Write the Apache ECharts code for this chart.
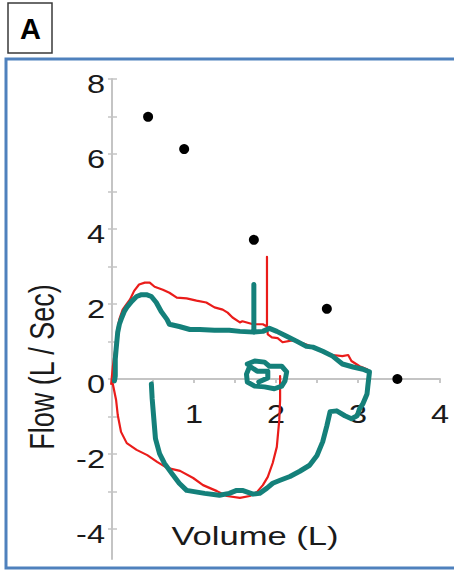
<!DOCTYPE html>
<html>
<head>
<meta charset="utf-8">
<script src="https://cdn.jsdelivr.net/npm/echarts@6/dist/echarts.min.js"></script>
<style>
html,body{margin:0;padding:0;background:#fff;}
#chart{width:454px;height:571px;}
</style>
</head>
<body>
<div id="chart"></div>
<script>
// ---- data ----
const panelLabel = 'A';
const xAxisName = 'Volume (L)';
const yAxisName = 'Flow (L / Sec)';
const xTickValues = [1, 2, 3, 4];
const xTickLabels = ['1', '2', '3', '4'];
const yTickValues = [8, 6, 4, 2, 0, -2, -4];
const yTickLabels = ['8', '6', '4', '2', '0', '-2', '-4'];
const yTickMarks = [-4, -3, -2, -1, 0, 1, 2, 3, 4, 5, 6, 7, 8];

const predictedVolume = [0.44, 0.88, 1.73, 2.62, 3.48];
const predictedFlow = [6.99, 6.13, 3.71, 1.87, 0.0];

const redExpVolume = [-0.01, 0.01, 0.04, 0.06, 0.09, 0.13, 0.18, 0.22, 0.27, 0.33, 0.40, 0.46, 0.52, 0.62, 0.70, 0.79, 0.91, 1.03, 1.15, 1.25, 1.35, 1.41, 1.47, 1.56, 1.59, 1.72, 1.84, 1.89, 1.89, 1.89, 1.90, 1.95, 2.02, 2.08, 2.20, 2.33, 2.45, 2.57, 2.69, 2.81, 2.88, 2.92, 3.02, 3.11];
const redExpFlow = [-0.13, 0.32, 0.80, 1.25, 1.60, 1.85, 2.00, 2.12, 2.35, 2.52, 2.57, 2.57, 2.46, 2.38, 2.30, 2.17, 2.15, 2.09, 2.04, 1.91, 1.85, 1.77, 1.64, 1.51, 1.54, 1.46, 1.46, 1.40, 3.26, 1.38, 1.19, 1.11, 1.09, 0.98, 1.03, 0.95, 0.85, 0.74, 0.64, 0.61, 0.64, 0.48, 0.34, 0.26];

const redInspVolume = [2.05, 2.05, 2.04, 2.01, 1.96, 1.90, 1.84, 1.77, 1.68, 1.56, 1.40, 1.28, 1.11, 0.99, 0.83, 0.67, 0.55, 0.43, 0.30, 0.18, 0.11, 0.07, 0.05, 0.02, 0.00];
const redInspFlow = [0.08, -0.56, -1.09, -1.81, -2.24, -2.61, -2.83, -3.01, -3.12, -3.17, -3.12, -2.99, -2.83, -2.64, -2.45, -2.37, -2.21, -2.03, -1.89, -1.71, -1.41, -0.96, -0.56, -0.24, -0.03];

const tealVolume = [0.03, 0.04, 0.04, 0.05, 0.07, 0.09, 0.12, 0.15, 0.18, 0.24, 0.30, 0.36, 0.42, 0.48, 0.54, 0.60, 0.67, 0.70, 0.82, 0.95, 1.07, 1.25, 1.43, 1.56, 1.73, 1.73, 1.73, 1.84, 1.92, 2.01, 2.13, 2.25, 2.37, 2.45, 2.57, 2.69, 2.81, 2.94, 3.06, 3.14, 3.12, 3.11, 3.06, 3.02, 2.99, 2.92, 2.84, 2.74, 2.66, 2.62, 2.57, 2.50, 2.41, 2.29, 2.17, 2.05, 1.96, 1.89, 1.80, 1.72, 1.59, 1.52, 1.43, 1.31, 1.13, 0.91, 0.82, 0.73, 0.64, 0.58, 0.53, 0.51, 0.49, 0.48];
const tealFlow = [-0.05, 0.08, 0.53, 0.79, 1.25, 1.46, 1.64, 1.80, 1.91, 2.07, 2.20, 2.25, 2.25, 2.20, 2.04, 1.80, 1.59, 1.46, 1.40, 1.32, 1.32, 1.30, 1.30, 1.27, 1.25, 2.52, 1.25, 1.27, 1.35, 1.27, 1.14, 1.01, 0.87, 0.85, 0.74, 0.61, 0.40, 0.32, 0.26, 0.19, -0.19, -0.40, -0.66, -0.79, -0.98, -1.06, -0.98, -0.85, -0.87, -1.25, -1.67, -2.04, -2.30, -2.46, -2.60, -2.70, -2.78, -2.91, -3.05, -3.07, -2.97, -2.97, -3.05, -3.10, -3.05, -2.97, -2.78, -2.52, -2.25, -1.99, -1.59, -1.06, -0.53, -0.13];

const tealSmallVolume = [1.65, 1.74, 1.86, 1.92, 2.07, 2.13, 2.11, 2.07, 1.98, 1.86, 1.74, 1.65, 1.64, 1.68, 1.77, 1.90, 1.90, 1.79];
const tealSmallFlow = [0.40, 0.48, 0.45, 0.34, 0.34, 0.19, -0.05, -0.19, -0.26, -0.21, -0.19, -0.08, 0.13, 0.34, 0.21, 0.21, 0.03, -0.08];

// ---- helpers ----
function zip(a, b) { return a.map((v, i) => [v, b[i]]); }

const RED = '#ea1c1a';
const TEAL = '#14807a';
const AXIS = '#c4c4c4';
const TXT = '#1a1a1a';

const chart = echarts.init(document.getElementById('chart'), null, { renderer: 'svg' });

const gridBox = { left: 112, top: 79, width: 328, height: 480 };

const baseX = {
  type: 'value', min: 0, max: 4, interval: 0.5,
  axisLine: { onZero: true, lineStyle: { color: AXIS, width: 2 } },
  axisLabel: { show: false },
  splitLine: { show: false }
};
const baseY = {
  type: 'value', min: -4.8, max: 8,
  axisLine: { show: true, lineStyle: { color: AXIS, width: 2 } },
  axisLabel: { show: false },
  splitLine: { show: false }
};

const lineSeries = (name, data, color, width, z) => ({
  name, type: 'line', data, showSymbol: false, symbol: 'none',
  xAxisIndex: 0, yAxisIndex: 0,
  lineStyle: { color, width, join: 'round', cap: 'round', opacity: 1 },
  silent: true, animation: false, z
});

chart.setOption({
  animation: false,
  backgroundColor: '#fff',
  grid: Object.assign({ outerBoundsMode: 'none', containLabel: false }, gridBox),
  xAxis: [
    Object.assign({}, baseX, { axisTick: { show: true, inside: false, length: 4, lineStyle: { color: AXIS, width: 1.5 } } }),
    Object.assign({}, baseX, { axisLine: { show: false, onZero: true, lineStyle: { color: AXIS } }, axisTick: { show: true, inside: true, length: 4, lineStyle: { color: AXIS, width: 1.5 } } })
  ],
  yAxis: [
    Object.assign({}, baseY, { position: 'left', offset: 0, axisTick: { show: true, inside: false, length: 4, customValues: yTickMarks, lineStyle: { color: AXIS, width: 1.5 } } }),
    Object.assign({}, baseY, { position: 'left', offset: 0, axisLine: { show: false }, axisTick: { show: true, inside: true, length: 5, customValues: yTickMarks, lineStyle: { color: AXIS, width: 1.5 } } })
  ],
  series: [
    lineSeries('Red expiration', zip(redExpVolume, redExpFlow), RED, 2.2, 2),
    lineSeries('Red inspiration', zip(redInspVolume, redInspFlow), RED, 2.2, 2),
    lineSeries('Teal loop', zip(tealVolume, tealFlow), TEAL, 5, 3),
    lineSeries('Teal small loop', zip(tealSmallVolume, tealSmallFlow), TEAL, 5, 3),
    {
      name: 'Predicted', type: 'scatter', data: zip(predictedVolume, predictedFlow),
      symbol: 'circle', symbolSize: 10, itemStyle: { color: '#000', opacity: 1 }, z: 5, silent: true
    }
  ]
});

// text elements placed via the chart's own axis scales
const graphics = [];
graphics.push({
  type: 'rect', shape: { x: 6, y: 59, width: 470, height: 509 },
  style: { fill: 'none', stroke: '#4f81bd', lineWidth: 3 }, z: 0, silent: true
});
graphics.push({
  type: 'rect', shape: { x: 8, y: 3, width: 44, height: 50 },
  style: { fill: '#fff', stroke: '#3a3a3a', lineWidth: 1.5 }, silent: true
});
graphics.push({
  type: 'text', x: 30.5, y: 29,
  style: { text: panelLabel, fontSize: 29, fontWeight: 'bold', fontFamily: 'Liberation Sans, Arial, sans-serif', fill: '#000', align: 'center', verticalAlign: 'middle', textAlign: 'center', textVerticalAlign: 'middle' },
  silent: true
});

const tickFont = { fontSize: 25, fontFamily: 'Liberation Sans, Arial, sans-serif', fill: TXT };
const axisY0 = chart.convertToPixel({ yAxisIndex: 0 }, 0);
const axisX0 = chart.convertToPixel({ xAxisIndex: 0 }, 0);
xTickValues.forEach((v, i) => {
  const px = chart.convertToPixel({ xAxisIndex: 0 }, v);
  graphics.push({
    type: 'text', x: px, y: axisY0 + 35, scaleX: 1.3,
    style: Object.assign({ text: xTickLabels[i], align: 'center', verticalAlign: 'middle', textAlign: 'center', textVerticalAlign: 'middle' }, tickFont),
    silent: true, z: 1
  });
});
yTickValues.forEach((v, i) => {
  const py = chart.convertToPixel({ yAxisIndex: 0 }, v);
  graphics.push({
    type: 'text', x: axisX0 - 7, y: py + 5, scaleX: 1.3,
    style: Object.assign({ text: yTickLabels[i], align: 'right', verticalAlign: 'middle', textAlign: 'right', textVerticalAlign: 'middle' }, tickFont),
    silent: true, z: 10
  });
});
graphics.push({
  type: 'text', x: 255, y: 536, scaleX: 1.33,
  style: { text: xAxisName, fontSize: 26, fontFamily: 'Liberation Sans, Arial, sans-serif', fill: TXT, align: 'center', verticalAlign: 'middle', textAlign: 'center', textVerticalAlign: 'middle' },
  silent: true, z: 10
});
graphics.push({
  type: 'text', x: 42, y: 367, rotation: Math.PI / 2, scaleY: 1.3,
  style: { text: yAxisName, fontSize: 27, fontFamily: 'Liberation Sans, Arial, sans-serif', fill: TXT, align: 'center', verticalAlign: 'middle', textAlign: 'center', textVerticalAlign: 'middle' },
  silent: true, z: 10
});
chart.setOption({ graphic: { elements: graphics } });
</script>
</body>
</html>
